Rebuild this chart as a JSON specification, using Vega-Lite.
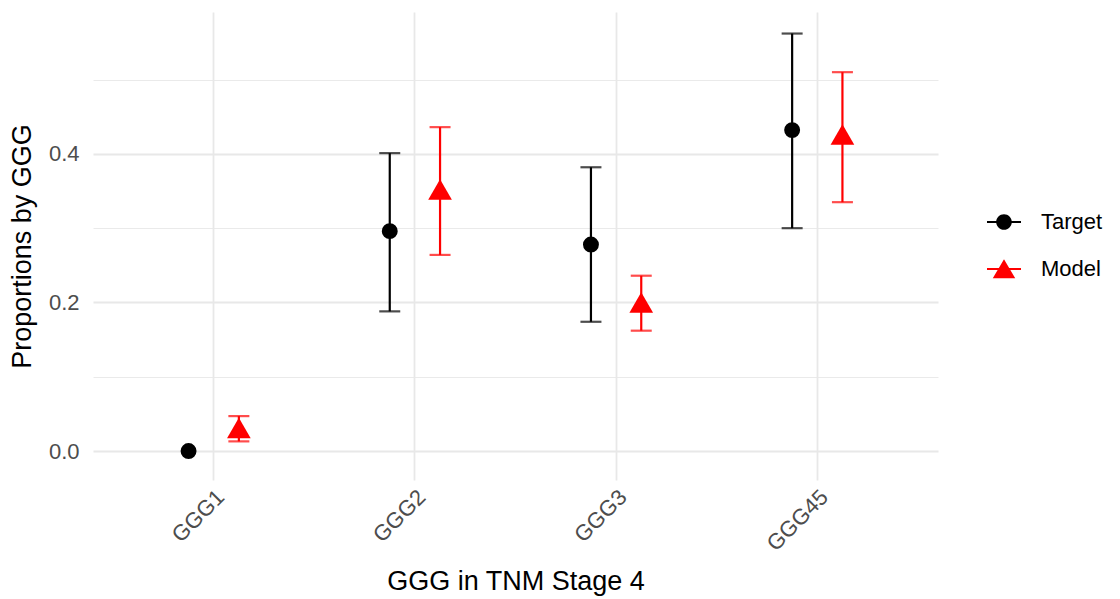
{
  "$schema": "https://vega.github.io/schema/vega-lite/v6.json",
  "width": 845,
  "height": 468,
  "autosize": {"type": "none"},
  "padding": {"left": 93, "top": 12, "right": 182, "bottom": 119},
  "background": "white",
  "config": {
    "view": {"stroke": null},
    "font": "Liberation Sans",
    "axis": {"domain": false, "ticks": false, "gridColor": "#e8e8e8", "labelColor": "#4d4d4d", "labelFontSize": 22, "titleFontSize": 27, "titleFontWeight": "normal", "titleColor": "black", "labelFont": "Liberation Sans", "titleFont": "Liberation Sans"}
  },
  "data": {
    "values": [
      {"ggg": "GGG1", "series": "Target", "value": 0.0, "lower": null, "upper": null},
      {"ggg": "GGG1", "series": "Model", "value": 0.031, "lower": 0.013, "upper": 0.047},
      {"ggg": "GGG2", "series": "Target", "value": 0.296, "lower": 0.188, "upper": 0.401},
      {"ggg": "GGG2", "series": "Model", "value": 0.352, "lower": 0.264, "upper": 0.436},
      {"ggg": "GGG3", "series": "Target", "value": 0.278, "lower": 0.174, "upper": 0.382},
      {"ggg": "GGG3", "series": "Model", "value": 0.200, "lower": 0.162, "upper": 0.236},
      {"ggg": "GGG45", "series": "Target", "value": 0.432, "lower": 0.300, "upper": 0.562},
      {"ggg": "GGG45", "series": "Model", "value": 0.426, "lower": 0.335, "upper": 0.510}
    ]
  },
  "encoding": {
    "x": {
      "field": "ggg", "type": "nominal",
      "scale": {"type": "band", "paddingInner": 0, "paddingOuter": 0.1},
      "axis": {"title": "GGG in TNM Stage 4", "labelAngle": -45, "labelAlign": "right", "labelBaseline": "top", "labelPadding": 6, "bandPosition": 0.5, "grid": true, "gridWidth": 1.8, "titlePadding": 14}
    },
    "xOffset": {"field": "series", "type": "nominal", "scale": {"domain": ["Target", "Model"], "paddingOuter": 1, "paddingInner": 0}}
  },
  "layer": [
    {
      "mark": {"type": "rule", "strokeWidth": 2.2},
      "encoding": {
        "y": {
          "field": "lower", "type": "quantitative",
          "scale": {"domain": [-0.039, 0.591], "nice": false, "zero": false},
          "axis": {
            "title": "Proportions by GGG",
            "values": [0, 0.1, 0.2, 0.3, 0.4, 0.5],
            "labelExpr": "round(datum.value*10) % 2 === 0 ? format(datum.value, '.1f') : ''",
            "gridWidth": {"condition": {"test": "round(datum.value*10) % 2 === 0", "value": 1.8}, "value": 0.9},
            "labelPadding": 14,
            "titlePadding": 12
          }
        },
        "y2": {"field": "upper"},
        "color": {"field": "series", "type": "nominal", "scale": {"domain": ["Target", "Model"], "range": ["#000000", "#ff0000"]}, "legend": null}
      }
    },
    {
      "mark": {"type": "tick", "thickness": 2.2, "size": 21},
      "encoding": {
        "y": {"field": "upper", "type": "quantitative"},
        "color": {"field": "series", "type": "nominal", "scale": {"domain": ["Target", "Model"], "range": ["#000000", "#ff0000"]}, "legend": null}
      }
    },
    {
      "mark": {"type": "tick", "thickness": 2.2, "size": 21},
      "encoding": {
        "y": {"field": "lower", "type": "quantitative"},
        "color": {"field": "series", "type": "nominal", "scale": {"domain": ["Target", "Model"], "range": ["#000000", "#ff0000"]}, "legend": null}
      }
    },
    {
      "mark": {"type": "point", "filled": true, "opacity": 1, "strokeWidth": 0},
      "encoding": {
        "y": {"field": "value", "type": "quantitative"},
        "color": {"field": "series", "type": "nominal", "scale": {"domain": ["Target", "Model"], "range": ["#000000", "#ff0000"]}, "legend": null},
        "shape": {"field": "series", "type": "nominal", "scale": {"domain": ["Target", "Model"], "range": ["circle", "triangle-up"]}, "legend": null},
        "size": {"field": "series", "type": "nominal", "scale": {"domain": ["Target", "Model"], "range": [254, 560]}, "legend": null}
      }
    },
    {
      "mark": {"type": "point", "filled": true, "opacity": 0},
      "encoding": {
        "y": {"field": "value", "type": "quantitative"},
        "color": {
          "field": "series", "type": "nominal",
          "scale": {"domain": ["Target", "Model"], "range": ["#000000", "#ff0000"]},
          "legend": {"title": null, "orient": "none", "legendX": 894, "legendY": 193, "symbolSize": 1156, "symbolOpacity": 1, "symbolStrokeWidth": 0, "labelFontSize": 22, "labelColor": "black", "labelOffset": 20, "rowPadding": 19, "padding": 0, "labelFont": "Liberation Sans"}
        },
        "shape": {
          "field": "series", "type": "nominal",
          "scale": {"domain": ["Target", "Model"], "range": [
            "M-1,-0.065H1V0.065H-1Z M0.46,0A0.46,0.46 0 1,1 -0.46,0A0.46,0.46 0 1,1 0.46,0Z",
            "M-1,-0.065H1V0.065H-1Z M0,-0.58L0.66,0.55L-0.66,0.55Z"
          ]},
          "legend": {"title": null, "orient": "none", "legendX": 894, "legendY": 193, "symbolSize": 1156, "symbolOpacity": 1, "symbolStrokeWidth": 0, "labelFontSize": 22, "labelColor": "black", "labelOffset": 20, "rowPadding": 19, "padding": 0, "labelFont": "Liberation Sans"}
        }
      }
    }
  ],
  "resolve": {"scale": {"color": "independent", "shape": "independent", "size": "independent"}}
}
